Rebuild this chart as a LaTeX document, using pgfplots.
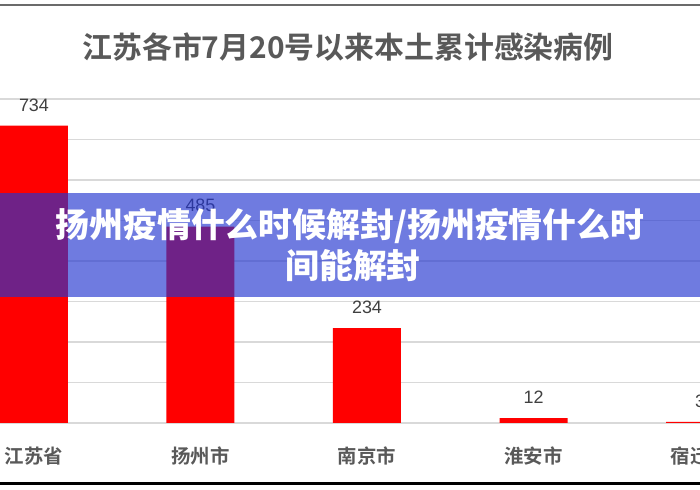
\documentclass[border=0pt]{standalone}
\usepackage{fontspec}
\usepackage{pgfplots}
\pgfplotsset{compat=1.18}
\setmainfont{Liberation Sans}
\newfontfamily\cjk{Noto Sans CJK SC}
\newfontfamily\cjkb{Noto Sans CJK SC Bold}
\newfontfamily\cjkh{Noto Sans CJK SC Black}
\definecolor{barred}{RGB}{255,0,0}
\definecolor{titlegray}{RGB}{89,89,89}
\definecolor{labgray}{RGB}{64,64,64}
\definecolor{gridgray}{RGB}{217,217,217}
\definecolor{banner}{RGB}{35,53,208}
\definecolor{topline}{RGB}{107,107,107}
\begin{document}
\begin{tikzpicture}[x=1bp,y=1bp]
\useasboundingbox (0,0) rectangle (700,490);
\fill[white] (0,0) rectangle (700,490);
\clip (0,0) rectangle (700,490);
\begin{axis}[
  at={(0bp,67bp)}, anchor=south west, scale only axis,
  width=700bp, height=324bp,
  xmin=-0.204, xmax=4.0, ymin=0, ymax=800,
  ytick={0,100,...,800}, yticklabels={},
  ymajorgrids, grid style={gridgray, line width=1.2bp},
  axis line style={draw=none},
  major tick length=0pt,
  xtick={0,1,2,3,4},
  xticklabels={江苏省,扬州市,南京市,淮安市,宿迁市},
  xticklabel style={font=\cjkb\fontsize{19.5}{19.5}\selectfont, text=titlegray, anchor=center, yshift=-33.5bp},
  ybar, bar width=68bp,
  nodes near coords,
  /pgf/number format/assume math mode=true,
  nodes near coords style={font=\fontsize{18}{18}\selectfont, text=labgray, yshift=11bp},
  clip=true,
]
\addplot[fill=barred, draw=none] coordinates {(0,734) (1,485) (2,234) (3,12) (4,3)};
\end{axis}
\node[font=\cjkb\fontsize{30}{30}\selectfont, text=titlegray] at (348,443) {江苏各市7月20号以来本土累计感染病例};
\draw[topline, line width=2bp] (0,485) -- (700,485);
\draw[black, line width=3bp] (0,6) -- (700,6);
\fill[banner, fill opacity=0.65] (0,193) rectangle (700,297);
\node[text=white, font=\cjkh\fontsize{34}{34}\selectfont] at (350,264.5) {扬州疫情什么时候解封/扬州疫情什么时};
\node[text=white, font=\cjkh\fontsize{34}{34}\selectfont] at (353,224) {间能解封};
\end{tikzpicture}
\end{document}
